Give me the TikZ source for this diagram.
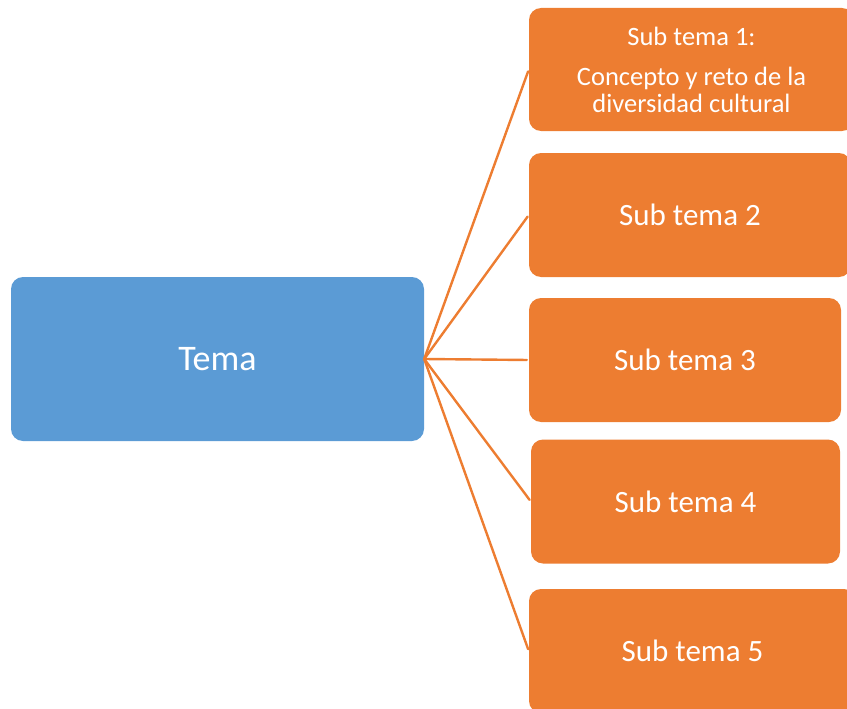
\documentclass[tikz,border=0pt]{standalone}
\usepackage{fontspec}
\setmainfont{Carlito}
\usetikzlibrary{positioning}
\definecolor{temablue}{HTML}{5B9BD5}
\definecolor{suborange}{HTML}{ED7D31}
\tikzset{
  box/.style={rounded corners=12pt, text=white, inner sep=0pt, align=center},
  temabox/.style={box, fill=temablue, minimum width=413pt, minimum height=164pt, font=\fontsize{36}{43}\selectfont},
  subbox/.style={box, fill=suborange, minimum height=124pt, font=\fontsize{31}{37}\selectfont},
  link/.style={suborange, line width=2.4pt, shorten >=2pt}
}
\begin{document}
\begin{tikzpicture}[x=1pt, y=-1pt, line join=round, line cap=round]
    \clip (0,0) rectangle (847,709);
    \node[temabox] (tema) at (217.5,359) {Tema};
    \node[subbox, minimum width=325pt, minimum height=123pt, font=\fontsize{26.5}{27}\selectfont] (sub1) at (691.5,69.5) {Sub tema 1:\\[13pt]Concepto y reto de la\\diversidad cultural};
    \node[subbox, minimum width=322pt] (sub2) at (690,215) {Sub tema 2};
    \node[subbox, minimum width=312pt] (sub3) at (685,360) {Sub tema 3};
    \node[subbox, minimum width=309pt] (sub4) at (685.5,501.5) {Sub tema 4};
    \node[subbox, minimum width=327pt] (sub5) at (692.5,651) {Sub tema 5};
    \foreach \i in {1,...,5}\draw[link] (tema.east)--(sub\i.west);
\end{tikzpicture}
\end{document}
